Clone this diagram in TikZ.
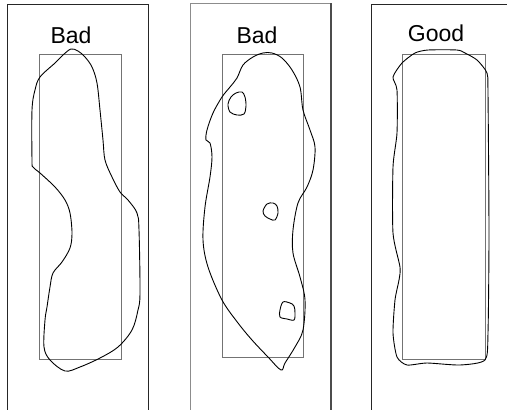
\documentclass[tikz,border=0pt]{standalone}
\usepackage{fontspec}
\setmainfont{Liberation Sans}
\begin{document}
\begin{tikzpicture}[x=1pt,y=-1pt,
  outerbox/.style={draw=black!85,line width=1pt},
  innerbox/.style={draw=black!55,line width=0.9pt},
  blob/.style={draw=black,line width=0.9pt,tension=0.55},
  lbl/.style={anchor=base,inner sep=0pt,font=\fontsize{23}{27}\selectfont}]
\useasboundingbox[fill=white] (0,0) rectangle (507,410);
% outer panels
\draw[outerbox] (7,411) -- (7,4) -- (148,4) -- (148,411);
\draw[outerbox,draw=black!45] (190,411) -- (190,3) -- (331,3) -- (331,411);
\draw[outerbox,draw=black!70,line width=1.2pt] (331,3) -- (331,411);
\draw[outerbox] (371,411) -- (371,4) -- (508,4);
% inner rectangles
\draw[innerbox] (39,54) rectangle (121,359);
\draw[innerbox] (222,54) rectangle (303,357);
\draw[innerbox] (402,54) rectangle (485,359);
% labels
\node[lbl] (l1) at (71,43) {Bad};
\node[lbl] (l2) at (257,43) {Bad};
\node[lbl] (l3) at (436,41) {Good};
% blob 1
\draw[blob] plot[smooth cycle] coordinates {
 (71,49) (63,55) (55,63) (40,77) (35,90) (32,110) (32,160) (33,167) (40,173)
 (55,187) (65,200) (70,213) (72,233) (70,248) (62,262) (53,273) (50,287)
 (47,307) (45,320) (44,347) (50,360) (65,371) (80,367) (100,358) (118,347)
 (132,330) (138,310) (140,293) (139,230) (137,213) (128,200) (120,192)
 (112,177) (105,160) (103,140) (100,110) (97,83) (92,67) (85,57) (78,51)};
% blob 2
\draw[blob] plot[smooth cycle] coordinates {
 (263,53) (253,57) (243,65) (237,78) (230,87) (222,97) (213,113) (207,130)
 (206,140) (210,143) (212,157) (210,177) (205,207) (203,240) (208,267)
 (222,300) (238,323) (252,340) (268,357) (281,370) (285,363) (295,347)
 (303,330) (305,300) (300,277) (293,253) (293,230) (298,203) (307,187)
 (313,170) (315,147) (310,130) (303,110) (300,87) (292,70) (282,58) (272,53)};
% holes
\draw[blob] plot[smooth cycle] coordinates {
 (236,93) (242,92) (245,97) (246,106) (244,114) (237,115) (230,112) (228,104) (231,97)};
\draw[blob] plot[smooth cycle] coordinates {
 (267,204) (273,203) (277,206) (278,213) (275,220) (270,219) (265,216) (263,211)};
\draw[blob] plot[smooth cycle] coordinates {
 (283,302) (290,303) (294,306) (295,313) (294,320) (287,319) (280,317) (280,310)};
% blob 3
\draw[blob,tension=0.4] plot[smooth cycle] coordinates {
 (428,50) (457,50) (465,53) (477,60) (487,73) (488,93) (489,233) (488,333)
 (485,360) (460,365) (427,363) (407,365) (397,357) (393,333) (395,300)
 (399,280) (400,267) (393,233) (393,167) (397,133) (397,90) (393,77)
 (402,63) (415,53)};
\end{tikzpicture}
\end{document}
